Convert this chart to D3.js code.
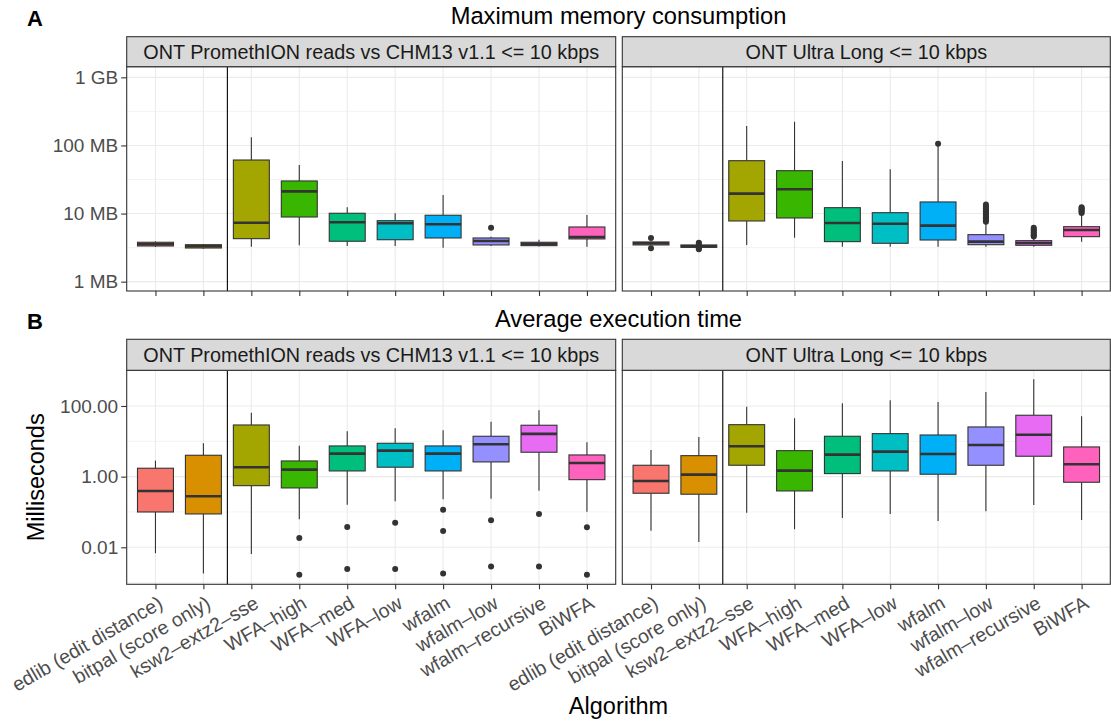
<!DOCTYPE html>
<html>
<head>
<meta charset="utf-8">
<script src="https://cdn.jsdelivr.net/npm/d3@7"></script>
<style>
  body { margin: 0; background: #fff; }
  svg { display: block; font-family: "Liberation Sans", Arial, Helvetica, sans-serif; }
</style>
</head>
<body>
<div id="container"></div>
<script>
// categories and facets
const algorithms = ["edlib (edit distance)", "bitpal (score only)", "ksw2–extz2–sse", "WFA–high",
  "WFA–med", "WFA–low", "wfalm", "wfalm–low", "wfalm–recursive", "BiWFA"];
const datasets = ["ONT PromethION reads vs CHM13 v1.1 <= 10 kbps", "ONT Ultra Long <= 10 kbps"];
const palette = ["#F8766D", "#D89000", "#A3A500", "#39B600", "#00BF7D", "#00BFC4", "#00B0F6", "#9590FF", "#E76BF3", "#FF62BC"];

// boxplot stats per algorithm: [lower whisker, q1, median, q3, upper whisker]
// memory in MB
const memProm = [
  [3.23, 3.34, 3.54, 3.79, 3.92],
  [3.05, 3.12, 3.31, 3.49, 3.57],
  [3.26, 4.28, 7.34, 61.1, 131.6],
  [3.42, 8.9, 21.2, 30.1, 51.6],
  [3.34, 3.92, 7.45, 10.1, 12.4],
  [3.34, 4.13, 7.2, 7.86, 10.1],
  [3.16, 4.38, 6.96, 9.44, 18.7],
  [3.34, 3.46, 3.96, 4.38, 4.58],
  [3.28, 3.38, 3.57, 3.79, 4.13],
  [3.26, 4.24, 4.53, 6.35, 9.53]
];
const memPromOut = [[], [], [], [], [], [], [], [6.2], [], []];
const memUltra = [
  [3.42, 3.46, 3.66, 3.83, 3.9],
  [3.15, 3.2, 3.3, 3.46, 3.55],
  [3.46, 7.78, 19.6, 59.7, 193],
  [4.42, 8.61, 22.7, 42.6, 223],
  [3.26, 3.87, 7.27, 12.2, 59.1],
  [3.26, 3.66, 7.1, 10.3, 44.7],
  [3.26, 4.09, 6.64, 14.8, 98],
  [3.26, 3.49, 3.87, 4.9, 7.2],
  [3.26, 3.42, 3.7, 4.0, 4.45],
  [3.87, 4.58, 5.74, 6.42, 9.8]
];
const memUltraOut = [
  [4.38, 3.09],
  [3.73, 3.62, 3.06, 3.0],
  [], [], [], [],
  [106],
  [7.6, 8.0, 8.4, 8.8, 9.2, 9.7, 10.2, 10.8, 11.4, 12.0, 12.8, 13.6],
  [4.6, 4.8, 5.0, 5.3, 5.6, 5.9, 6.2],
  [10.2, 10.6, 11.0, 11.5, 12.0, 12.4]
];
// average execution time in milliseconds
const timeProm = [
  [0.0068, 0.1, 0.394, 1.73, 2.84],
  [0.0018, 0.088, 0.279, 4.03, 8.8],
  [0.0065, 0.556, 1.85, 29, 64.8],
  [0.0622, 0.479, 1.58, 2.78, 7.54],
  [0.161, 1.45, 4.48, 7.4, 19.3],
  [0.201, 1.85, 5.44, 8.8, 23.4],
  [0.229, 1.45, 4.48, 7.4, 20.6],
  [0.238, 2.61, 8.26, 13.9, 36],
  [0.402, 4.91, 16.2, 28.5, 75.7],
  [0.102, 0.822, 2.44, 4.11, 9.42]
];
const timePromOut = [[], [], [], [0.0184, 0.00166], [0.0377, 0.00244], [0.0499, 0.00244],
  [0.116, 0.029, 0.0018], [0.0583, 0.00284], [0.088, 0.00284], [0.037, 0.00168]];
const timeUltra = [
  [0.0296, 0.339, 0.756, 2.1, 5.7],
  [0.0142, 0.318, 1.14, 3.93, 13.3],
  [0.0957, 2.1, 7.25, 29.6, 95.8],
  [0.0324, 0.394, 1.48, 5.44, 45],
  [0.0678, 1.22, 4.2, 13.9, 119],
  [0.088, 1.45, 5.1, 16.5, 145],
  [0.0557, 1.17, 4.39, 15.1, 130],
  [0.105, 2.1, 7.89, 25.5, 250],
  [0.158, 3.78, 15.4, 54.7, 571],
  [0.0594, 0.694, 2.24, 6.93, 51.2]
];
const timeUltraOut = [[], [], [], [], [], [], [], [], [], []];

const memTicks = [1, 10, 100, 1000];
const memTickLabels = ["1 MB", "10 MB", "100 MB", "1 GB"];
const timeTicks = [0.01, 1, 100];
const timeTickLabels = ["0.01", "1.00", "100.00"];

const width = 1111, height = 723;
const panelX = [[126.7, 615.7], [622.3, 1110.3]];
const grey20 = "#333333", grey30 = "#4D4D4D", grid = "#EBEBEB";

const svg = d3.select("#container").append("svg")
  .attr("width", width)
  .attr("height", height);

const rows = [
  {
    tag: "A", title: "Maximum memory consumption", titleY: 24,
    stripTop: 36.7, top: 66.7, bottom: 291,
    scale: d3.scaleLog().domain([Math.pow(10, -0.137), Math.pow(10, 3.156)]).range([291, 66.7]),
    ticks: memTicks, tickLabels: memTickLabels,
    stats: [memProm, memUltra], outs: [memPromOut, memUltraOut], xLabels: false
  },
  {
    tag: "B", title: "Average execution time", titleY: 327.3,
    stripTop: 339.3, top: 370.3, bottom: 584.3,
    scale: d3.scaleLog().domain([Math.pow(10, -3.047), Math.pow(10, 3.01)]).range([584.3, 370.3]),
    ticks: timeTicks, tickLabels: timeTickLabels,
    stats: [timeProm, timeUltra], outs: [timePromOut, timeUltraOut], xLabels: true
  }
];

rows.forEach(row => {
  const y = row.scale;
  const logTicks = row.ticks.map(t => Math.log10(t));
  const step = logTicks[1] - logTicks[0];
  const [d0, d1] = y.domain().map(Math.log10);
  const minor = [];
  for (let v = logTicks[0] - step / 2; v <= d1; v += step) {
    if (v >= d0) minor.push(Math.pow(10, v));
  }

  // panel title and tag
  svg.append("text")
    .attr("x", (panelX[0][0] + panelX[1][1]) / 2)
    .attr("y", row.titleY)
    .attr("text-anchor", "middle")
    .style("font-size", "23.7px")
    .attr("fill", "#000")
    .text(row.title);
  svg.append("text")
    .attr("x", 27)
    .attr("y", row.titleY + 2)
    .style("font-size", "22px")
    .style("font-weight", "bold")
    .text(row.tag);

  datasets.forEach((ds, p) => {
    const [x0, x1] = panelX[p];
    const x = d3.scalePoint().domain(algorithms).range([x0, x1]).padding(0.6);
    const bw = x.step() * 0.75;
    const g = svg.append("g");

    // grid
    g.selectAll(".minor").data(minor).join("line")
      .attr("x1", x0).attr("x2", x1)
      .attr("y1", d => y(d)).attr("y2", d => y(d))
      .attr("stroke", grid).attr("stroke-width", 0.6);
    g.selectAll(".major").data(row.ticks).join("line")
      .attr("x1", x0).attr("x2", x1)
      .attr("y1", d => y(d)).attr("y2", d => y(d))
      .attr("stroke", grid).attr("stroke-width", 1.1);
    g.selectAll(".vgrid").data(algorithms).join("line")
      .attr("x1", d => x(d)).attr("x2", d => x(d))
      .attr("y1", row.top).attr("y2", row.bottom)
      .attr("stroke", grid).attr("stroke-width", 1.1);

    // separator between baselines and the rest
    const sepX = (x(algorithms[1]) + x(algorithms[2])) / 2;
    g.append("line")
      .attr("x1", sepX).attr("x2", sepX)
      .attr("y1", row.top).attr("y2", row.bottom)
      .attr("stroke", "#000").attr("stroke-width", 1.1);

    // boxplots
    const stats = row.stats[p];
    algorithms.forEach((a, i) => {
      const [lo, q1, med, q3, hi] = stats[i];
      const cx = x(a);
      g.append("line")
        .attr("x1", cx).attr("x2", cx)
        .attr("y1", y(hi)).attr("y2", y(q3))
        .attr("stroke", grey20).attr("stroke-width", 1.1);
      g.append("line")
        .attr("x1", cx).attr("x2", cx)
        .attr("y1", y(q1)).attr("y2", y(lo))
        .attr("stroke", grey20).attr("stroke-width", 1.1);
      g.append("rect")
        .attr("x", cx - bw / 2)
        .attr("y", y(q3))
        .attr("width", bw)
        .attr("height", Math.max(0.5, y(q1) - y(q3)))
        .attr("fill", palette[i])
        .attr("stroke", grey20)
        .attr("stroke-width", 1.1);
      g.append("line")
        .attr("x1", cx - bw / 2).attr("x2", cx + bw / 2)
        .attr("y1", y(med)).attr("y2", y(med))
        .attr("stroke", grey20).attr("stroke-width", 2.6);
      g.selectAll(null).data(row.outs[p][i]).join("circle")
        .attr("cx", cx)
        .attr("cy", d => y(d))
        .attr("r", 3)
        .attr("fill", grey20);
    });

    // panel border
    g.append("rect")
      .attr("x", x0).attr("y", row.top)
      .attr("width", x1 - x0).attr("height", row.bottom - row.top)
      .attr("fill", "none").attr("stroke", grey20).attr("stroke-width", 1.1);

    // strip
    g.append("rect")
      .attr("x", x0).attr("y", row.stripTop)
      .attr("width", x1 - x0).attr("height", row.top - row.stripTop)
      .attr("fill", "#D9D9D9").attr("stroke", grey20).attr("stroke-width", 1.1);
    g.append("text")
      .attr("x", (x0 + x1) / 2)
      .attr("y", (row.stripTop + row.top) / 2 + 7)
      .attr("text-anchor", "middle")
      .style("font-size", "19.8px")
      .attr("fill", "#1A1A1A")
      .text(ds);

    // x axis
    const xAxis = svg.append("g")
      .attr("transform", `translate(0,${row.bottom})`)
      .call(d3.axisBottom(x).tickSize(5).tickSizeOuter(0).tickFormat(row.xLabels ? d => d : ""));
    xAxis.select(".domain").remove();
    xAxis.selectAll(".tick line").attr("stroke", grey20).attr("stroke-width", 1.1);
    xAxis.selectAll(".tick text")
      .attr("x", 0).attr("y", 0).attr("dy", "0.72em")
      .attr("transform", "translate(1,10.4) rotate(-30)")
      .attr("text-anchor", "end")
      .attr("fill", grey30)
      .style("font-size", "19.6px")
      .style("font-family", "'Liberation Sans', Arial, sans-serif");

    // y axis only on the left panel
    if (p === 0) {
      const yAxis = svg.append("g")
        .attr("transform", `translate(${x0},0)`)
        .call(d3.axisLeft(y).tickValues(row.ticks)
          .tickFormat((d, k) => row.tickLabels[k])
          .tickSize(5.5).tickPadding(3).tickSizeOuter(0));
      yAxis.select(".domain").remove();
      yAxis.selectAll(".tick line").attr("stroke", grey20).attr("stroke-width", 1.1);
      yAxis.selectAll(".tick text")
        .attr("fill", grey30)
        .style("font-size", "19px")
        .style("font-family", "'Liberation Sans', Arial, sans-serif");
    }
  });
});

// axis titles
svg.append("text")
  .attr("transform", "translate(43.5,477.3) rotate(-90)")
  .attr("text-anchor", "middle")
  .style("font-size", "23.5px")
  .text("Milliseconds");
svg.append("text")
  .attr("x", (panelX[0][0] + panelX[1][1]) / 2)
  .attr("y", 714)
  .attr("text-anchor", "middle")
  .style("font-size", "23.5px")
  .text("Algorithm");
</script>
</body>
</html>
